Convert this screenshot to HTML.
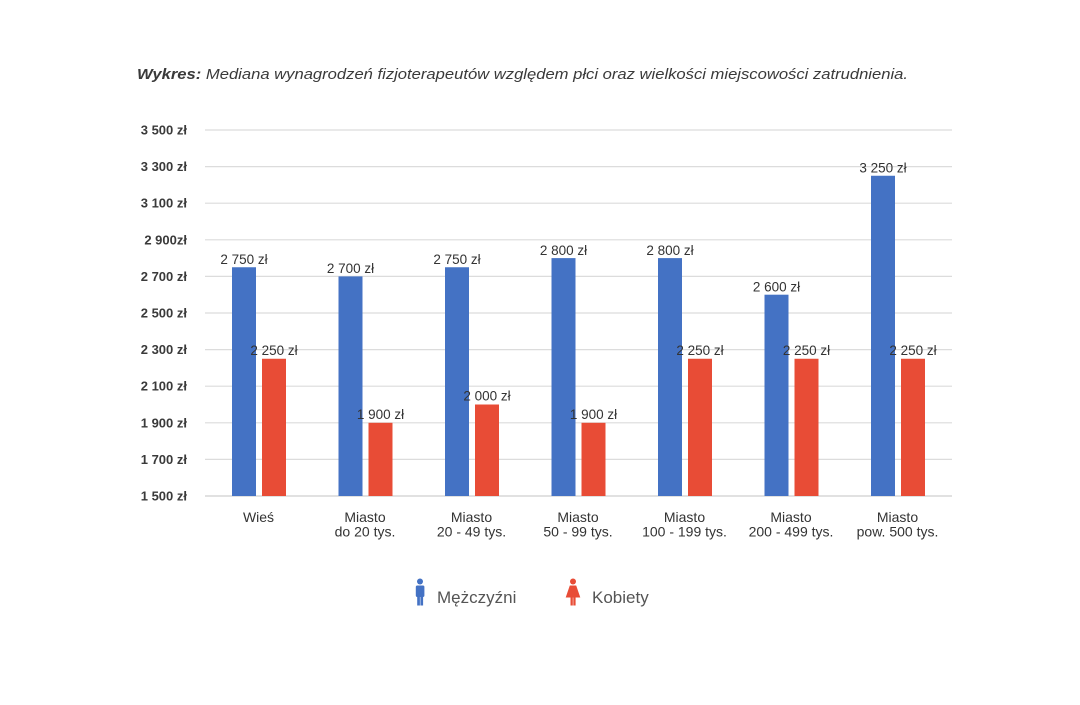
<!DOCTYPE html>
<html><head><meta charset="utf-8"><style>
html,body{margin:0;padding:0;background:#fff;}
svg{display:block;}
</style></head><body>
<svg width="1080" height="705" viewBox="0 0 1080 705" xmlns="http://www.w3.org/2000/svg" font-family="Liberation Sans, sans-serif">
<rect width="1080" height="705" fill="#fff"/>
<text x="137" y="79" font-size="15" font-style="italic" fill="#3a3a3a" textLength="771" lengthAdjust="spacingAndGlyphs"><tspan font-weight="bold">Wykres:</tspan> Mediana wynagrodzeń fizjoterapeutów względem płci oraz wielkości miejscowości zatrudnienia.</text>
<g stroke="#dcdcdc" stroke-width="1.2">
<line x1="205" x2="952" y1="130" y2="130"/>
<line x1="205" x2="952" y1="166.6" y2="166.6"/>
<line x1="205" x2="952" y1="203.2" y2="203.2"/>
<line x1="205" x2="952" y1="239.8" y2="239.8"/>
<line x1="205" x2="952" y1="276.4" y2="276.4"/>
<line x1="205" x2="952" y1="313" y2="313"/>
<line x1="205" x2="952" y1="349.6" y2="349.6"/>
<line x1="205" x2="952" y1="386.2" y2="386.2"/>
<line x1="205" x2="952" y1="422.8" y2="422.8"/>
<line x1="205" x2="952" y1="459.4" y2="459.4"/>
<line x1="205" x2="952" y1="496" y2="496" stroke="#cfcfcf"/>
</g>
<g font-size="13" font-weight="bold" fill="#3a3a3a" text-anchor="end">
<text x="187" y="134.5">3 500 zł</text>
<text x="187" y="171.1">3 300 zł</text>
<text x="187" y="207.7">3 100 zł</text>
<text x="187" y="244.3">2 900zł</text>
<text x="187" y="280.9">2 700 zł</text>
<text x="187" y="317.5">2 500 zł</text>
<text x="187" y="354.1">2 300 zł</text>
<text x="187" y="390.7">2 100 zł</text>
<text x="187" y="427.3">1 900 zł</text>
<text x="187" y="463.9">1 700 zł</text>
<text x="187" y="500.5">1 500 zł</text>
</g>
<g fill="#4472c4">
<rect x="232" y="267.25" width="24" height="228.75"/>
<rect x="338.5" y="276.4" width="24" height="219.6"/>
<rect x="445" y="267.25" width="24" height="228.75"/>
<rect x="551.5" y="258.1" width="24" height="237.9"/>
<rect x="658" y="258.1" width="24" height="237.9"/>
<rect x="764.5" y="294.7" width="24" height="201.3"/>
<rect x="871" y="175.75" width="24" height="320.25"/>
</g>
<g fill="#e84c36">
<rect x="262" y="358.75" width="24" height="137.25"/>
<rect x="368.5" y="422.8" width="24" height="73.2"/>
<rect x="475" y="404.5" width="24" height="91.5"/>
<rect x="581.5" y="422.8" width="24" height="73.2"/>
<rect x="688" y="358.75" width="24" height="137.25"/>
<rect x="794.5" y="358.75" width="24" height="137.25"/>
<rect x="901" y="358.75" width="24" height="137.25"/>
</g>
<g font-size="13.5" fill="#333" text-anchor="middle">
<text x="244" y="264">2 750 zł</text>
<text x="350.5" y="273">2 700 zł</text>
<text x="457" y="264">2 750 zł</text>
<text x="563.5" y="255">2 800 zł</text>
<text x="670" y="255">2 800 zł</text>
<text x="776.5" y="291.5">2 600 zł</text>
<text x="883" y="172.5">3 250 zł</text>
<text x="274" y="355">2 250 zł</text>
<text x="380.5" y="419">1 900 zł</text>
<text x="487" y="400.7">2 000 zł</text>
<text x="593.5" y="419">1 900 zł</text>
<text x="700" y="355">2 250 zł</text>
<text x="806.5" y="355">2 250 zł</text>
<text x="913" y="355">2 250 zł</text>
</g>
<g font-size="14" fill="#333" text-anchor="middle">
<text x="258.5" y="522">Wieś</text>
<text x="365" y="522">Miasto</text><text x="365" y="536.5">do 20 tys.</text>
<text x="471.5" y="522">Miasto</text><text x="471.5" y="536.5">20 - 49 tys.</text>
<text x="578" y="522">Miasto</text><text x="578" y="536.5">50 - 99 tys.</text>
<text x="684.5" y="522">Miasto</text><text x="684.5" y="536.5">100 - 199 tys.</text>
<text x="791" y="522">Miasto</text><text x="791" y="536.5">200 - 499 tys.</text>
<text x="897.5" y="522">Miasto</text><text x="897.5" y="536.5">pow. 500 tys.</text>
</g>
<!-- legend man -->
<g fill="#4472c4">
<circle cx="420" cy="581.5" r="3"/>
<rect x="415.8" y="585.5" width="8.6" height="11.5" rx="1.5"/>
<rect x="417.2" y="594" width="2.7" height="11.5"/>
<rect x="420.4" y="594" width="2.7" height="11.5"/>
</g>
<text x="437" y="603" font-size="17" fill="#555">Mężczyźni</text>
<!-- legend woman -->
<g fill="#e84c36">
<circle cx="573" cy="581.5" r="3"/>
<path d="M569.8,585.5 L576.2,585.5 L580.3,597.5 L565.7,597.5 Z"/>
<rect x="570.5" y="596" width="2.3" height="9.5"/>
<rect x="573.3" y="596" width="2.3" height="9.5"/>
</g>
<text x="592" y="603" font-size="17" fill="#555">Kobiety</text>
</svg>
</body></html>
